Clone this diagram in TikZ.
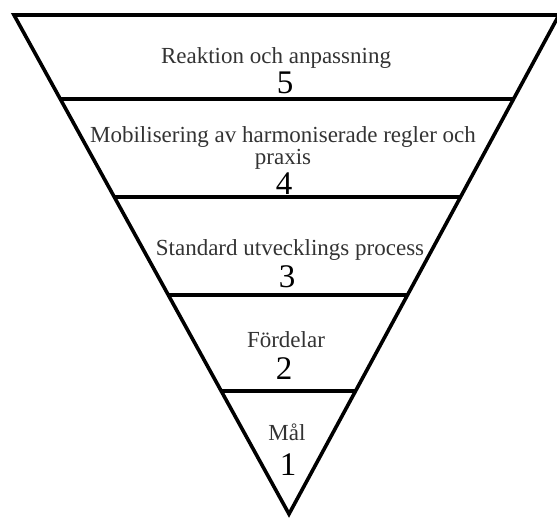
\documentclass[tikz,border=0pt]{standalone}
\usepackage{fontspec}
\setmainfont{Liberation Serif}
\begin{document}
\begin{tikzpicture}[x=1bp,y=-1bp,line join=miter,
  lvltext/.style={font=\fontsize{23bp}{22bp}\selectfont,text=textcol,align=center,anchor=base,inner sep=0pt},
  lvlnum/.style={font=\fontsize{33bp}{33bp}\selectfont,text height=0.66em,text depth=0pt,anchor=base,inner sep=0pt}]
  \pgfsetlinewidth{3.6bp}
  \definecolor{textcol}{rgb}{0.2,0.2,0.2}
  \useasboundingbox (0,0) rectangle (557,519);
%%
  % Outline
  \coordinate (tl) at (14,15);
  \coordinate (tr) at (559,15);
  \coordinate (apex) at (289,514);
  \draw (tl) -- (tr) -- (apex) -- cycle;
  % Divider: 5 / 4
  \coordinate (d1l) at (intersection of tl--apex and 0,99--1,99);
  \coordinate (d1r) at (intersection of tr--apex and 0,99--1,99);
  \draw (d1l) -- (d1r);
  % Divider: 4 / 3
  \coordinate (d2l) at (intersection of tl--apex and 0,197--1,197);
  \coordinate (d2r) at (intersection of tr--apex and 0,197--1,197);
  \draw (d2l) -- (d2r);
  % Divider: 3 / 2
  \coordinate (d3l) at (intersection of tl--apex and 0,295--1,295);
  \coordinate (d3r) at (intersection of tr--apex and 0,295--1,295);
  \draw (d3l) -- (d3r);
  % Divider: 2 / 1
  \coordinate (d4l) at (intersection of tl--apex and 0,391--1,391);
  \coordinate (d4r) at (intersection of tr--apex and 0,391--1,391);
  \draw (d4l) -- (d4r);
  % Level: 5
  \node[lvltext] (txt5) at (276,64) {Reaktion och anpassning};
  \node[lvlnum] (num5) at (285,94) {5};
  % Level: 4 (base is the last line)
  \node[lvltext] (txt4) at (283,165) {Mobilisering av harmoniserade regler och\\praxis};
  \node[lvlnum] (num4) at (284,195) {4};
  % Level: 3
  \node[lvltext] (txt3) at (290,255) {Standard utvecklings process};
  \node[lvlnum] (num3) at (287,287) {3};
  % Level: 2
  \node[lvltext] (txt2) at (286,347) {Fördelar};
  \node[lvlnum] (num2) at (284,379) {2};
  % Level: 1
  \node[lvltext] (txt1) at (287,440) {Mål};
  \node[lvlnum] (num1) at (288,475) {1};
%
\end{tikzpicture}
\end{document}
